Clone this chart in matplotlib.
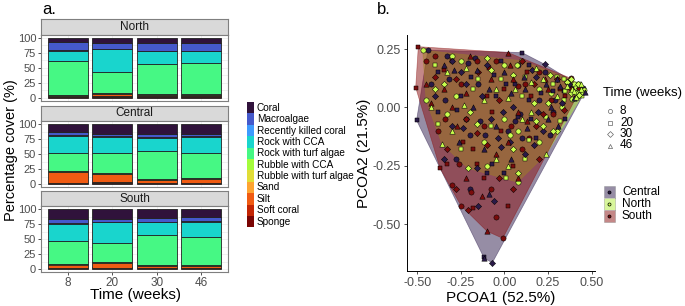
import numpy as np
import matplotlib.pyplot as plt
from matplotlib.patches import Polygon, Rectangle

plt.rcParams['font.family'] = ['Liberation Sans', 'DejaVu Sans']

# ---- panel a data: percentage cover per site and time ----
categories = ['Coral', 'Macroalgae', 'Recently killed coral', 'Rock with CCA',
              'Rock with turf algae', 'Rubble with CCA', 'Rubble with turf algae',
              'Sand', 'Silt', 'Soft coral', 'Sponge']
weeks = ['8', '20', '30', '46']
sites = ['North', 'Central', 'South']

# rows = weeks 8, 20, 30, 46 ; columns = categories in legend order
north_cover = [
    [7, 13, 1, 18, 56, 0.5, 0.5, 0.5, 1, 0.5, 2],
    [8, 10, 1, 38, 35, 0.5, 0.5, 1, 3, 1, 2],
    [8, 13, 1, 21, 50.5, 0.5, 0.5, 0.5, 2.5, 0.5, 2],
    [8, 13, 1, 20, 52, 0.5, 0.5, 0.5, 1.5, 1, 2],
]
central_cover = [
    [14, 4, 1.5, 28, 31, 0.5, 0.5, 0.5, 17.5, 1, 1.5],
    [16, 4, 1, 27, 34, 0.5, 0.5, 0.5, 13.5, 1, 2],
    [17, 5, 1.5, 21.5, 47, 0.5, 0.5, 0.5, 5, 0.5, 1],
    [16, 3.5, 1.5, 28, 41, 0.5, 0.5, 0.5, 7, 0.5, 1],
]
south_cover = [
    [17, 7, 1, 28, 38, 0.5, 0.5, 0.5, 6, 0.5, 1],
    [16, 5, 1, 34, 32, 0.5, 0.5, 0.5, 8, 1, 1.5],
    [15, 6, 1, 21, 50, 0.5, 0.5, 0.5, 3.5, 1, 1],
    [14, 6, 1, 25, 48, 0.5, 0.5, 0.5, 2.5, 1, 1],
]

# ---- panel b data: PCoA scores (x, y, time in weeks) ----
central_x = [-0.44, 0.10, 0.23, 0.45, 0.46, -0.07, -0.115, -0.12, -0.505,
             -0.20, -0.15, -0.06, 0.00, -0.09, -0.35, -0.28, -0.10, 0.04, 0.12,
             0.18, -0.20, -0.30, -0.38, -0.42, -0.35, -0.25, -0.15, -0.05, 0.05,
             0.12, 0.20, 0.28, 0.33, 0.38, 0.25, 0.15, 0.02, -0.08, -0.18,
             -0.25, -0.32, -0.10, 0.00, 0.08, 0.18, 0.30, 0.35, 0.10, -0.02,
             -0.12, -0.22, -0.40, -0.05, 0.22, 0.06, -0.13, 0.40, 0.28, -0.02,
             -0.30, -0.17, -0.26, 0.14,
             -0.33, -0.27, -0.22, -0.16, -0.11, -0.06, -0.01, 0.04, 0.09, 0.14,
             0.19, 0.24, 0.29, 0.34, 0.37, 0.31, 0.26, 0.21, 0.16, 0.11,
             0.06, 0.01, -0.04, -0.09, -0.14, -0.19, -0.24, -0.29, -0.34, -0.38,
             0.03, 0.13, 0.23, -0.07, 0.17, 0.27, -0.21, 0.08, -0.16, 0.32]
central_y = [0.245, 0.235, 0.185, 0.085, 0.065, -0.665, -0.645, -0.64, -0.055,
             -0.35, -0.42, -0.40, -0.28, -0.37, -0.22, -0.22, -0.28, -0.22, -0.20,
             -0.13, -0.12, -0.08, -0.02, 0.10, 0.18, 0.15, 0.10, 0.05, 0.00,
             0.08, 0.03, 0.07, 0.02, 0.09, -0.05, -0.05, -0.10, -0.05, 0.00,
             0.05, 0.12, 0.18, 0.15, 0.18, 0.13, 0.12, -0.05, -0.13, -0.17,
             -0.18, -0.05, 0.05, -0.08, -0.10, 0.10, 0.05, 0.04, -0.02, 0.20,
             0.20, 0.21, -0.15, 0.18,
             0.22, -0.01, 0.10, 0.16, -0.12, 0.14, -0.02, 0.06, -0.03, 0.03,
             -0.02, 0.10, 0.03, 0.07, 0.10, -0.08, -0.12, 0.06, 0.16, 0.13,
             -0.06, 0.10, -0.13, 0.08, -0.06, 0.13, -0.09, 0.16, 0.03, 0.15,
             -0.15, -0.09, 0.15, -0.24, -0.16, 0.00, 0.19, -0.04, -0.26, 0.09]
central_t = [8, 20, 30, 8, 46, 30, 46, 20, 20,
             8, 30, 30, 20, 46, 30, 8, 20, 46, 30,
             20, 8, 30, 20, 8, 46, 30, 8, 20, 30,
             46, 8, 20, 30, 8, 46, 20, 8, 30, 46,
             20, 8, 30, 46, 8, 30, 46, 20, 8, 30,
             46, 8, 30, 46, 30, 20, 30, 46, 8, 20,
             30, 8, 46, 20,
             8, 20, 30, 46, 8, 20, 30, 46, 8, 20,
             30, 46, 8, 20, 30, 46, 8, 20, 30, 46,
             8, 20, 30, 46, 8, 20, 30, 46, 8, 20,
             30, 46, 8, 20, 30, 46, 8, 20, 30, 46]

north_x = [-0.47, 0.10, 0.38, 0.44, 0.455, 0.445, 0.30, 0.24, 0.075, 0.01,
           -0.21, -0.36, -0.45,
           0.42, 0.43, 0.41, 0.44, 0.40, 0.43, 0.42, 0.39, 0.44, 0.41, 0.38, 0.36,
           -0.40, -0.35, -0.42, -0.38, -0.30, -0.22, -0.28, -0.20, -0.15, -0.10,
           -0.05, 0.00, 0.05, 0.10, 0.15, 0.20, 0.25, 0.28, 0.30, 0.33, 0.32,
           0.22, 0.15, 0.20, 0.12, 0.05, -0.05, -0.12, -0.25, -0.30, 0.08,
           0.00, -0.12, 0.34, 0.26, 0.18, -0.02, 0.08,
           0.43, 0.45, 0.42, 0.40, 0.37, 0.35, 0.43, 0.41, 0.39, 0.34, 0.36,
           -0.33, -0.25, -0.18, -0.08, 0.02, 0.07, 0.12, 0.17, 0.22, 0.27,
           0.24, 0.18, 0.10, 0.03, -0.08, -0.16, -0.23, -0.33, 0.14, 0.28,
           0.02, -0.10, 0.30, -0.40, 0.06]
north_y = [0.245, 0.20, 0.12, 0.10, 0.075, 0.05, -0.10, -0.20, -0.32, -0.30,
           -0.26, -0.155, 0.03,
           0.09, 0.07, 0.06, 0.08, 0.10, 0.10, 0.05, 0.08, 0.065, 0.085, 0.06, 0.09,
           0.18, 0.10, 0.00, -0.07, 0.22, 0.17, 0.05, -0.02, 0.12, 0.21,
           0.08, -0.05, 0.14, 0.05, 0.11, 0.08, 0.02, 0.10, 0.05, 0.00, -0.06,
           -0.08, -0.02, -0.15, -0.22, -0.18, -0.22, -0.15, -0.18, -0.10, -0.28,
           0.18, 0.03, 0.12, 0.14, 0.17, 0.12, -0.10,
           0.085, 0.06, 0.10, 0.07, 0.10, 0.07, 0.055, 0.045, 0.035, 0.03, 0.11,
           0.15, 0.20, 0.08, 0.16, 0.04, 0.18, 0.13, 0.02, 0.12, 0.06,
           -0.04, -0.06, -0.05, -0.12, -0.08, -0.07, 0.01, -0.03, -0.14, -0.10,
           -0.25, -0.25, 0.13, 0.08, 0.08]
north_t = [8, 20, 30, 46, 8, 20, 30, 46, 8, 20,
           30, 46, 8,
           8, 20, 30, 46, 8, 20, 30, 46, 8, 20, 30, 46,
           20, 30, 46, 20, 8, 46, 8, 30, 20, 30,
           46, 8, 30, 20, 46, 8, 30, 20, 46, 8, 20,
           30, 46, 8, 20, 30, 46, 8, 20, 46, 30,
           8, 46, 20, 30, 46, 20, 8,
           8, 20, 30, 46, 8, 20, 30, 46, 8, 20, 30,
           46, 8, 20, 30, 46, 8, 20, 30, 46, 8,
           20, 30, 46, 8, 20, 30, 46, 8, 20, 30,
           46, 8, 20, 30, 46]

south_x = [-0.495, 0.02, 0.38, 0.43, 0.42, -0.01, -0.10, -0.25, -0.37, -0.51,
           -0.30, -0.28, -0.18, -0.13, -0.21, -0.05, -0.12, -0.22, 0.05, 0.02,
           -0.08,
           -0.45, -0.40, -0.42, -0.38, -0.33, -0.30, -0.20, -0.25, -0.15, -0.10,
           -0.05, 0.05, 0.10, 0.15, 0.20, 0.25, 0.30, 0.35, 0.28, 0.18, 0.08,
           -0.02, -0.12, -0.22, -0.30, -0.18, -0.05, 0.10, 0.20, 0.00, -0.35,
           0.12, -0.08, 0.38, -0.26, 0.05,
           -0.40, -0.35, -0.28, -0.22, -0.16, -0.09, -0.03, 0.03, 0.08, 0.13,
           0.17, 0.23, 0.27, 0.32, 0.22, 0.13, 0.04, -0.07, -0.16, -0.27,
           -0.34, -0.24, -0.10, 0.02, 0.14, -0.16, -0.03, 0.08, -0.19, -0.33,
           0.34, -0.45, 0.36]
south_y = [0.26, 0.235, 0.125, 0.085, 0.055, -0.56, -0.53, -0.42, -0.26, 0.085,
           -0.33, -0.35, -0.43, -0.38, -0.44, -0.47, -0.30, -0.30, -0.35, -0.42,
           -0.35,
           0.20, 0.13, 0.02, -0.10, -0.18, 0.20, 0.22, 0.10, 0.15, 0.05,
           0.20, 0.12, 0.20, 0.05, 0.15, 0.08, 0.12, 0.05, -0.03, -0.08, -0.02,
           -0.10, -0.08, -0.05, 0.00, -0.18, -0.20, -0.18, -0.22, 0.08, 0.08,
           0.10, 0.12, 0.08, -0.24, -0.25,
           0.22, 0.16, 0.12, 0.06, 0.20, 0.17, 0.03, 0.18, 0.09, 0.15,
           0.10, 0.12, 0.03, 0.08, -0.03, -0.06, -0.08, -0.02, -0.11, -0.08,
           -0.05, -0.15, -0.16, -0.15, -0.13, -0.24, -0.30, -0.30, -0.36, -0.24,
           -0.01, 0.10, 0.11]
south_t = [20, 46, 8, 30, 20, 8, 46, 8, 20, 20,
           8, 30, 20, 46, 30, 8, 20, 46, 30, 20,
           8,
           8, 30, 46, 8, 30, 20, 46, 8, 30, 20,
           8, 46, 30, 20, 8, 46, 30, 20, 8, 30, 46,
           20, 8, 30, 46, 20, 46, 8, 30, 20, 46,
           8, 46, 30, 8, 20,
           8, 20, 30, 46, 8, 20, 30, 46, 8, 20,
           30, 46, 8, 20, 30, 46, 8, 20, 30, 46,
           8, 20, 30, 46, 8, 20, 30, 46, 8, 20,
           30, 46, 8]

W, H = 685, 306
fig = plt.figure(figsize=(W / 100, H / 100), dpi=100)


def box(l, t, r, b):
    return [l / W, 1 - b / H, (r - l) / W, (b - t) / H]


cat_colors = plt.cm.turbo(np.linspace(0, 1, len(categories)))
grey_txt = '#4d4d4d'

# ---------------- panel a ----------------
covers = {'North': north_cover, 'Central': central_cover, 'South': south_cover}
strips = {'North': (19, 35, 101), 'Central': (106, 121, 187), 'South': (191, 206, 272)}
pos = np.arange(1, len(weeks) + 1)
for site in sites:
    st, pt, pb = strips[site]
    sax = fig.add_axes(box(41, st, 228, pt))
    sax.set_facecolor('#d9d9d9')
    sax.set_xticks([])
    sax.set_yticks([])
    for s in sax.spines.values():
        s.set_color('#7f7f7f')
        s.set_linewidth(0.8)
    sax.text(0.5, 0.5, site, ha='center', va='center', fontsize=8.5, color='#1a1a1a',
             transform=sax.transAxes)

    ax = fig.add_axes(box(41, pt, 228, pb))
    vals = np.array(covers[site])
    bottom = np.zeros(len(weeks))
    for j in range(len(categories) - 1, -1, -1):
        ax.bar(pos, vals[:, j], bottom=bottom, width=0.9, color=cat_colors[j],
               edgecolor='#222222', linewidth=0.6, zorder=3)
        bottom += vals[:, j]
    ax.set_xlim(0.39, 4.61)
    ax.set_ylim(-5, 105)
    ax.set_yticks([0, 25, 50, 75, 100])
    ax.set_yticks([12.5, 37.5, 62.5, 87.5], minor=True)
    ax.grid(True, which='both', color='#ebebeb', linewidth=0.5, zorder=0)
    ax.set_xticks(pos)
    ax.tick_params(axis='both', labelsize=8, colors='#333333', labelcolor=grey_txt,
                   length=2.5, width=0.6, pad=1)
    ax.tick_params(which='minor', length=0)
    if site == 'South':
        ax.set_xticklabels(weeks, fontsize=8.5)
    else:
        ax.set_xticklabels([])
        ax.tick_params(axis='x', length=0)
    for s in ax.spines.values():
        s.set_color('#7f7f7f')
        s.set_linewidth(0.8)

fig.text(11 / W, 1 - 150 / H, 'Percentage cover (%)', rotation=90, ha='center',
         va='center', fontsize=10.5)
fig.text(135 / W, 1 - 295 / H, 'Time (weeks)', ha='center', va='center', fontsize=11)
fig.text(42 / W, 1 - 10 / H, 'a.', ha='left', va='center', fontsize=12)
fig.text(377 / W, 1 - 10 / H, 'b.', ha='left', va='center', fontsize=12)

# ---------------- panel b ----------------
site_fill = {'Central': '#2e1c4d', 'North': '#b3ee3a', 'South': '#8b1010'}
site_point = {'Central': '#2a1a48', 'North': '#c8ff4d', 'South': '#7a0c0c'}
time_marker = {8: 'o', 20: 's', 30: 'D', 46: '^'}
time_size = {8: 14, 20: 12, 30: 10, 46: 15}
pcoa = {
    'Central': (central_x, central_y, central_t),
    'North': (north_x, north_y, north_t),
    'South': (south_x, south_y, south_t),
}


def convex_hull(xs, ys):
    pts = sorted(set(zip(xs, ys)))

    def cross(o, a, b):
        return (a[0] - o[0]) * (b[1] - o[1]) - (a[1] - o[1]) * (b[0] - o[0])

    lower, upper = [], []
    for p in pts:
        while len(lower) >= 2 and cross(lower[-2], lower[-1], p) <= 0:
            lower.pop()
        lower.append(p)
    for p in reversed(pts):
        while len(upper) >= 2 and cross(upper[-2], upper[-1], p) <= 0:
            upper.pop()
        upper.append(p)
    return np.array(lower[:-1] + upper[:-1])


bx = fig.add_axes(box(407, 35, 595, 271))
for site in ['Central', 'North', 'South']:
    xs, ys, _ = pcoa[site]
    hv = convex_hull(xs, ys)
    bx.add_patch(Polygon(hv, closed=True, facecolor=site_fill[site], alpha=0.5,
                         edgecolor=site_fill[site], linewidth=0.5, zorder=1))

for t in [8, 20, 30, 46]:
    for site in ['Central', 'South', 'North']:
        xs, ys, ts = pcoa[site]
        xs, ys, ts = np.array(xs), np.array(ys), np.array(ts)
        m = ts == t
        bx.scatter(xs[m], ys[m], marker=time_marker[t], s=time_size[t],
                   facecolor=site_point[site], edgecolor='black', linewidth=0.35,
                   zorder=3)

bx.set_xlim(-0.56, 0.52)
bx.set_ylim(-0.70, 0.31)
bx.set_xticks([-0.50, -0.25, 0.00, 0.25, 0.50])
bx.set_yticks([0.25, 0.00, -0.25, -0.50])
bx.set_xticklabels(['-0.50', '-0.25', '0.00', '0.25', '0.50'])
bx.set_yticklabels(['0.25', '0.00', '-0.25', '-0.50'])
bx.tick_params(labelsize=9, labelcolor=grey_txt, colors='#333333', length=2.5,
               width=0.6, pad=2)
for side in ['top', 'right']:
    bx.spines[side].set_visible(False)
for side in ['left', 'bottom']:
    bx.spines[side].set_linewidth(0.7)
bx.set_xlabel('PCOA1 (52.5%)', fontsize=11, labelpad=1)
bx.set_ylabel('PCOA2 (21.5%)', fontsize=11, labelpad=1)

# ---------------- legends (pixel overlay) ----------------
lg = fig.add_axes([0, 0, 1, 1])
lg.set_xlim(0, W)
lg.set_ylim(H, 0)
lg.axis('off')

top, step = 102, 11.4
for i, cat in enumerate(categories):
    y0 = top + i * step
    lg.add_patch(Rectangle((247, y0), 7, step, facecolor=cat_colors[i], edgecolor='none'))
    lg.text(257, y0 + step / 2, cat, ha='left', va='center', fontsize=7.2)

lg.text(603, 93, 'Time (weeks)', ha='left', va='center', fontsize=9.5)
for i, t in enumerate([8, 20, 30, 46]):
    yy = 111 + i * 11.5
    lg.plot(610, yy, marker=time_marker[t], markersize=3, markerfacecolor='none',
            markeredgecolor='#666666', markeredgewidth=0.5, linestyle='none')
    lg.text(620, yy, str(t), ha='left', va='center', fontsize=8.5)

for i, site in enumerate(['Central', 'North', 'South']):
    y0 = 186 + i * 12
    lg.add_patch(Rectangle((604, y0), 11, 12, facecolor='white', edgecolor='none'))
    lg.add_patch(Rectangle((604, y0), 11, 12, facecolor=site_fill[site], alpha=0.5,
                           edgecolor='#7f7f7f', linewidth=0.5))
    lg.plot(609.5, y0 + 6, marker='o', markersize=2.2, markerfacecolor=site_point[site],
            markeredgecolor='black', markeredgewidth=0.5, linestyle='none')
    lg.text(622, y0 + 6, site, ha='left', va='center', fontsize=8.5)

fig.savefig('out.png', dpi=100)
